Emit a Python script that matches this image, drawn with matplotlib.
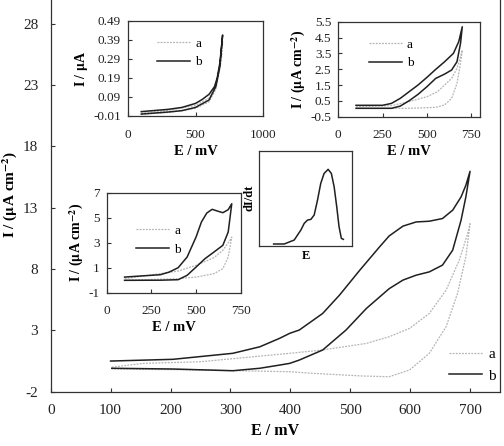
import matplotlib
matplotlib.use('Agg')
import matplotlib.pyplot as plt

plt.rcParams['font.family'] = ['Liberation Serif', 'DejaVu Serif']
plt.rcParams['mathtext.fontset'] = 'stix'
plt.rcParams['axes.unicode_minus'] = False

# main voltammograms (loop: forward 100->700, back 700->100), E in mV, I in uA cm-2
main_a_E = [102, 154, 249, 399, 454, 527, 565, 599, 632, 660, 682, 696, 700,
            693, 679, 660, 632, 599, 565, 520, 437, 399, 249, 102]
main_a_I = [0.0, 0.31, 0.44, 1.13, 1.4, 1.94, 2.48, 3.16, 4.38, 6.28, 8.72, 10.9, 11.7,
            9.0, 6.0, 3.3, 1.13, -0.23, -0.78, -0.72, -0.5, -0.37, -0.23, -0.15]
main_b_E = [100, 204, 304, 349, 382, 399, 415, 454, 482, 516, 549, 565, 588, 610,
            632, 654, 671, 685, 693, 700,
            693, 685, 671, 654, 632, 610, 588, 565, 527, 493, 454, 415, 399, 382,
            349, 304, 204, 102]
main_b_I = [0.5, 0.64, 1.13, 1.66, 2.35, 2.76, 3.03, 4.38, 5.87, 7.91, 9.81, 10.7, 11.5, 11.84,
            11.9, 12.12, 12.8, 13.88, 14.83, 15.97,
            13.88, 11.98, 9.54, 8.32, 7.77, 7.5, 7.1, 6.4, 4.79, 3.03, 1.4, 0.58, 0.31, 0.17,
            -0.09, -0.29, -0.15, -0.09]

# inset 1 (I / uA)
in1_a_E = [100, 300, 500, 600, 650, 690, 700, 690, 650, 600, 500, 300, 100]
in1_a_I = [0.005, 0.02, 0.045, 0.085, 0.15, 0.3, 0.38, 0.28, 0.13, 0.065, 0.03, 0.008, 0.0]
in1_b_E = [100, 300, 400, 500, 550, 600, 640, 660, 680, 700,
           680, 650, 600, 500, 400, 300, 100]
in1_b_I = [0.013, 0.025, 0.035, 0.056, 0.077, 0.104, 0.144, 0.19, 0.27, 0.415,
           0.25, 0.144, 0.074, 0.035, 0.018, 0.011, 0.0]

# inset 2
in2_a_E = [100, 300, 400, 500, 560, 600, 640, 670, 690, 700,
           690, 670, 640, 600, 550, 400, 100]
in2_a_I = [0.13, 0.2, 0.45, 0.76, 1.08, 1.5, 1.92, 2.55, 3.29, 3.71,
           2.87, 1.6, 0.66, 0.24, 0.09, 0.03, 0.03]
in2_b_E = [100, 250, 300, 350, 400, 450, 500, 550, 600, 650, 680, 700,
           690, 670, 640, 600, 550, 500, 450, 400, 350, 300, 100]
in2_b_I = [0.22, 0.22, 0.34, 0.66, 1.08, 1.5, 1.98, 2.49, 2.97, 3.5, 4.24, 5.18,
           4.13, 2.97, 2.45, 2.19, 1.92, 1.39, 0.91, 0.51, 0.17, 0.03, 0.03]

# inset 3
in3_a_E = [100, 400, 500, 600, 650, 690, 700, 680, 650, 600, 500, 400, 100]
in3_a_I = [0.12, 0.73, 1.19, 1.8, 2.39, 3.19, 3.45, 1.85, 0.92, 0.52, 0.25, 0.12, 0.0]
in3_b_E = [100, 300, 350, 400, 450, 500, 530, 560, 590, 620, 650, 680, 700,
           680, 650, 600, 550, 500, 450, 400, 300, 100]
in3_b_I = [0.25, 0.44, 0.65, 1.0, 1.85, 3.45, 4.65, 5.37, 5.67, 5.53, 5.4, 5.64, 6.12,
           3.85, 2.79, 2.25, 1.72, 1.05, 0.39, 0.04, 0.0, -0.01]

# inset 4: derivative (arbitrary units)
d_E = [15.5, 27, 37.8, 45, 48.6, 52.2, 55.8, 59.4, 63, 66.5, 70.1, 74.5,
       78, 81, 83.8, 86.3, 88.8, 91]
d_I = [1.8, 1.8, 6, 16.5, 23.5, 27, 27.7, 32.3, 48, 65.6, 76, 80.4,
       76, 62, 41, 20, 7.7, 6.7]

W, H = 504, 446
A_STYLE = dict(color='#b4b4b4', lw=0.9, ls=(0, (1.5, 1)))
B_STYLE = dict(color='#202020', lw=1.1)


def rect(x0, y0, x1, y1):
    return [x0 / W, 1 - y1 / H, (x1 - x0) / W, (y1 - y0) / H]


def style(ax, size):
    ax.tick_params(direction='in', labelsize=size, length=3, width=0.8,
                   colors='#333333', labelcolor='#222222', pad=5)
    for s in ax.spines.values():
        s.set_linewidth(0.9)
        s.set_color('#333333')


fig = plt.figure(figsize=(W / 100, H / 100), dpi=100)

ax = fig.add_axes(rect(50.7, -2, 500, 391.7))
ax.plot(main_a_E, main_a_I, label='a', **A_STYLE)
ax.plot(main_b_E, main_b_I, label='b', **B_STYLE)
ax.set_xlim(0, 750)
ax.set_ylim(-2, 30.1)
ax.set_xticks(range(0, 701, 100))
ax.set_yticks(range(-2, 29, 5))
style(ax, 11)
ax.tick_params(axis='x', pad=9)
ax.tick_params(axis='y', pad=9)
ax.set_xlabel('E / mV', fontsize=11.5, fontweight='bold', labelpad=4)
ax.set_ylabel(r'I / ($\mathbf{\mu}$A cm$^{\mathbf{-2}}$)', fontsize=11, fontweight='bold', labelpad=3)
ax.legend(loc='lower right', bbox_to_anchor=(1.022, -0.012), frameon=False, fontsize=11,
          handlelength=2.2, handletextpad=0.4, labelspacing=0.5)


def inset(r, aE, aI, bE, bI, xlim, xticks, ylim, yticks, ylabel, legpos):
    a = fig.add_axes(rect(*r))
    a.plot(aE, aI, label='a', **A_STYLE)
    a.plot(bE, bI, label='b', **B_STYLE)
    a.set_xlim(*xlim)
    a.set_ylim(*ylim)
    a.set_xticks(xticks)
    a.set_yticks(yticks)
    style(a, 9.5)
    a.tick_params(axis='x', pad=9)
    a.set_xlabel('E / mV', fontsize=10.5, fontweight='bold', labelpad=3)
    a.set_ylabel(ylabel, fontsize=10, fontweight='bold', labelpad=2)
    a.legend(loc='upper left', bbox_to_anchor=legpos, frameon=False, fontsize=9.5,
             handlelength=2.5, handletextpad=0.4, labelspacing=0.5)
    return a


ax1 = inset((127.7, 20.7, 263.3, 116), in1_a_E, in1_a_I, in1_b_E, in1_b_I,
            (0, 1000), [0, 500, 1000], (-0.01, 0.49),
            [-0.01, 0.09, 0.19, 0.29, 0.39, 0.49], r'I / $\mathbf{\mu}$A', (0.13, 0.95))
ax1.set_yticklabels(['-0.01', '0.09', '0.19', '0.29', '0.39', '0.49'])

ax2 = inset((338.3, 21.7, 480, 116.7), in2_a_E, in2_a_I, in2_b_E, in2_b_I,
            (0, 800), [0, 250, 500, 750], (-0.5, 5.5),
            [-0.5, 0.5, 1.5, 2.5, 3.5, 4.5, 5.5], r'I / ($\mathbf{\mu}$A cm$^{\mathbf{-2}}$)', (0.13, 0.95))

ax3 = inset((106.7, 192.7, 240.7, 292.7), in3_a_E, in3_a_I, in3_b_E, in3_b_I,
            (0, 750), [0, 250, 500, 750], (-1, 7),
            [-1, 1, 3, 5, 7], r'I / ($\mathbf{\mu}$A cm$^{\mathbf{-2}}$)', (0.13, 0.8))

ax4 = fig.add_axes(rect(259.3, 150.7, 351.7, 245.7))
ax4.plot(d_E, d_I, **B_STYLE)
ax4.set_xlim(0, 100)
ax4.set_ylim(0, 100)
ax4.set_xticks([])
ax4.set_yticks([])
style(ax4, 9)
ax4.set_xlabel('E', fontsize=9, fontweight='bold', labelpad=3)
ax4.set_ylabel('dI/dt', fontsize=9, fontweight='bold', labelpad=3)

fig.savefig('out.png', dpi=100)
